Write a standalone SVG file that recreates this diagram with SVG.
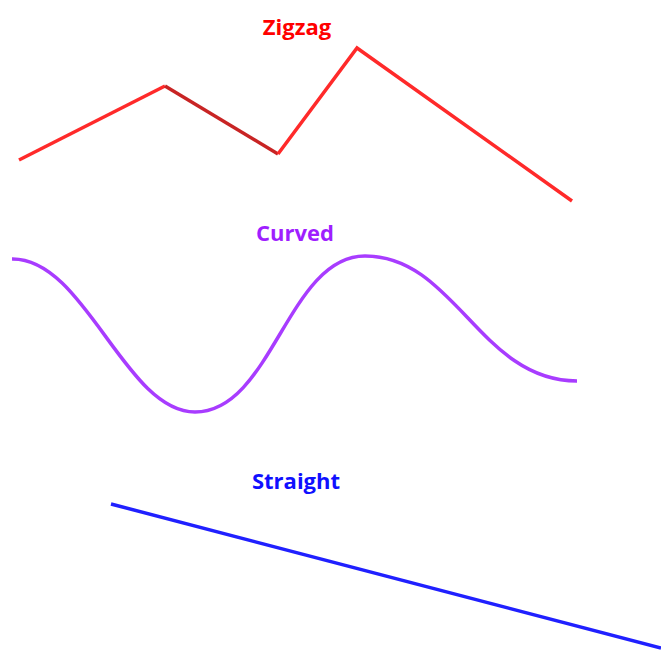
<svg xmlns="http://www.w3.org/2000/svg" width="661" height="652" viewBox="0 0 661 652">
<style>
.lbl{font-family:"Open Sans","Liberation Sans",sans-serif;font-weight:bold;font-size:22px;text-anchor:middle}
.ln{fill:none;stroke-width:3.5;stroke-linejoin:miter;stroke-linecap:butt}
</style>
<rect width="661" height="652" fill="#fff"/>
<g id="zigzag">
<text class="lbl" x="297" y="35" fill="#ff0000">Zigzag</text>
</g>
<g id="curved">
<text class="lbl" x="295" y="241" fill="#9f1fff">Curved</text>
</g>
<g id="straight">
<text class="lbl" x="296" y="489" fill="#1010ff">Straight</text>
</g>
<g id="connectors">
<polyline class="ln" stroke="#ff2a2a" points="19,160 165,86"/>
<polyline class="ln" stroke="#c82424" points="165,86 278,154"/>
<polyline class="ln" stroke="#ff2a2a" points="278,154 357,48 572,201"/>
<path class="ln" stroke="#a83cff" d="M12,259 C85,258 125,412 195,412 C272,412 288,256 365,256 C455,256 480,381 577,381"/>
<path class="ln" stroke="#2020ff" d="M111,504 L661,648"/>
</g>
</svg>
